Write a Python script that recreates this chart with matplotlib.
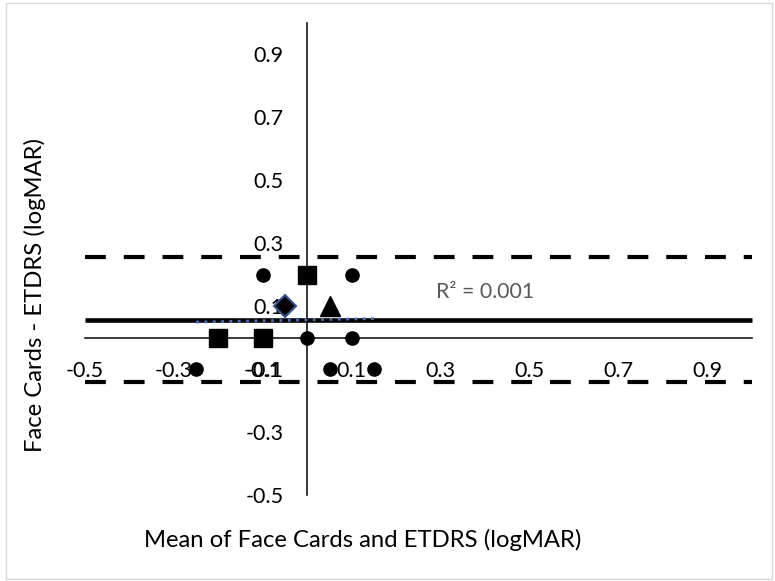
import matplotlib
matplotlib.use('Agg')
import matplotlib.pyplot as plt
from matplotlib.patches import Rectangle

plt.rcParams['font.family'] = ['Lato', 'DejaVu Sans']
plt.rcParams['axes.unicode_minus'] = False

# data (Bland-Altman style plot)
circle_x = [-0.1, 0.1, 0.0, 0.1, -0.25, 0.05, 0.15]
circle_y = [0.2, 0.2, 0.0, 0.0, -0.1, -0.1, -0.1]
square_x = [0.0, -0.2, -0.1]
square_y = [0.2, 0.0, 0.0]
diamond_x = [-0.05]
diamond_y = [0.1]
triangle_x = [0.05]
triangle_y = [0.1]

mean_diff = 0.057
loa_upper = 0.256
loa_lower = -0.142

trend_x = [-0.25, 0.15]
trend_y = [0.049, 0.060]
r2_text = 'R² = 0.001'

tick_vals = [-0.5, -0.3, -0.1, 0.1, 0.3, 0.5, 0.7, 0.9]
tick_labels = ['-0.5', '-0.3', '-0.1', '0.1', '0.3', '0.5', '0.7', '0.9']

fig = plt.figure(figsize=(7.75, 5.81), dpi=100)
ax = fig.add_axes([85 / 775, 86 / 581, 667 / 775, 472.5 / 581])
ax.set_xlim(-0.5, 1.0)
ax.set_ylim(-0.5, 1.0)

# axes crossing at zero, excel style
for s in ['top', 'right']:
    ax.spines[s].set_visible(False)
ax.spines['left'].set_position(('data', 0))
ax.spines['bottom'].set_position(('data', 0))
ax.spines['left'].set_linewidth(1.1)
ax.spines['bottom'].set_linewidth(1.1)

ax.set_xticks(tick_vals)
ax.set_xticklabels(tick_labels)
ax.set_yticks(tick_vals)
ax.set_yticklabels(tick_labels)
ax.tick_params(length=0, labelsize=15.5, pad=17, colors='black')

# mean and limits of agreement
ax.plot([-0.5, 1.0], [mean_diff, mean_diff], color='black', lw=3.3, solid_capstyle='butt', clip_on=False, zorder=3)
ax.plot([-0.5, 1.0], [loa_upper, loa_upper], color='black', lw=3.0, dashes=(5, 4.3), clip_on=False, zorder=3)
ax.plot([-0.5, 1.0], [loa_lower, loa_lower], color='black', lw=3.0, dashes=(5, 4.3), clip_on=False, zorder=3)

# linear trend
ax.plot(trend_x, trend_y, color='#4472C4', lw=2, dashes=(1, 2), zorder=4)
ax.text(0.29, 0.144, r2_text, color='#595959', fontsize=15.3, ha='left', va='center')

# points
ax.plot(circle_x, circle_y, 'o', color='black', ms=9.5, ls='none', zorder=5)
ax.plot(square_x, square_y, 's', color='black', ms=13.5, ls='none', zorder=5)
ax.plot(diamond_x, diamond_y, 'D', mfc='black', mec='#2F5597', mew=1.5, ms=11.5, ls='none', zorder=5)
ax.plot(triangle_x, triangle_y, '^', color='black', ms=15, ls='none', zorder=5)

ax.set_xlabel('Mean of Face Cards and ETDRS (logMAR)', fontsize=17.2)
ax.xaxis.set_label_coords((363 - 85) / 667, -45 / 472.5)
ax.xaxis.label.set_va('center')
ax.set_ylabel('Face Cards - ETDRS (logMAR)', fontsize=17.2)
ax.yaxis.set_label_coords(-50 / 667, 200 / 472.5)
ax.yaxis.label.set_va('center')

# chart border
fig.patches.append(Rectangle((6 / 775, 2 / 581), 766 / 775, 576 / 581, transform=fig.transFigure,
                             fill=False, edgecolor='#D9D9D9', lw=1))

fig.savefig('out.png', dpi=100)
